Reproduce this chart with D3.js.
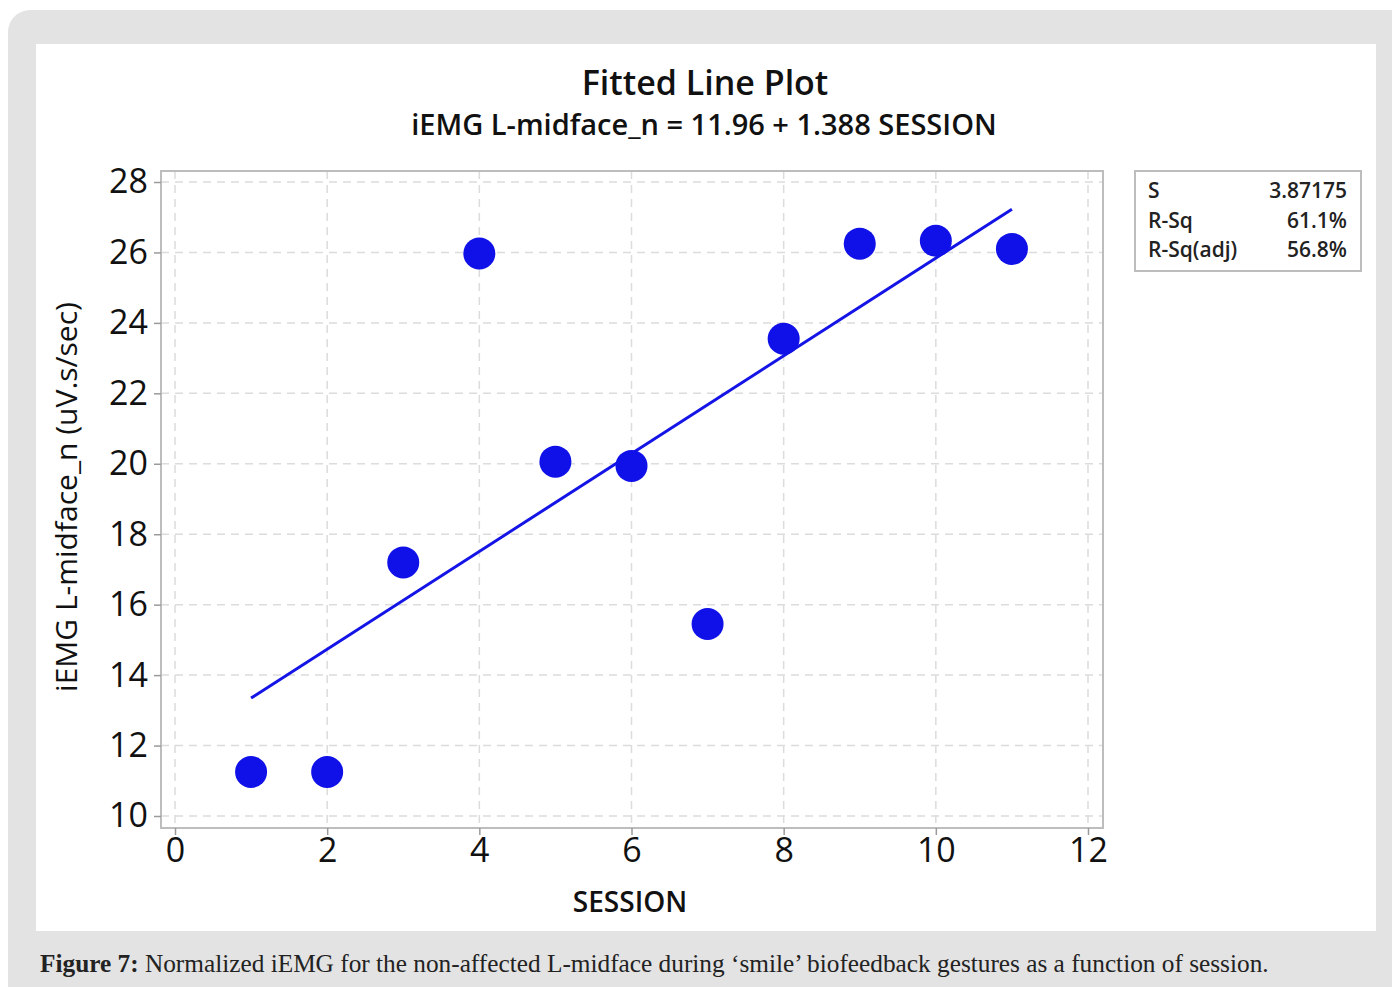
<!DOCTYPE html>
<html>
<head>
<meta charset="utf-8">
<script src="https://cdn.jsdelivr.net/npm/d3@7"></script>
<style>
  body { margin: 0; background: #fff; }
  text { font-family: "Open Sans", "Noto Sans", sans-serif; }
</style>
</head>
<body>
<div id="chart"></div>
<script>
// data
var sessions = [1, 2, 3, 4, 5, 6, 7, 8, 9, 10, 11];
var iemg = [11.25, 11.25, 17.2, 25.97, 20.06, 19.94, 15.45, 23.55, 26.25, 26.33, 26.1];
var fitIntercept = 11.96, fitSlope = 1.388;
var xTicks = [0, 2, 4, 6, 8, 10, 12];
var yTicks = [10, 12, 14, 16, 18, 20, 22, 24, 26, 28];
var statNames = ["S", "R-Sq", "R-Sq(adj)"];
var statValues = ["3.87175", "61.1%", "56.8%"];

var W = 1392, H = 987;
var svg = d3.select("#chart").append("svg")
    .attr("width", W)
    .attr("height", H);

// page background + white panel
svg.append("rect").attr("x", 8).attr("y", 10).attr("width", 1420).attr("height", 977 + 30)
    .attr("rx", 22).attr("fill", "#e3e3e3");
svg.append("rect").attr("x", 36).attr("y", 44).attr("width", 1340).attr("height", 887)
    .attr("fill", "#fff");

// scales
var x = d3.scaleLinear().domain([0, 12]).range([175, 1088]);
var y = d3.scaleLinear().domain([10, 28]).range([816, 182]);

var frame = {left: 161, right: 1103, top: 171, bottom: 828};

// grid
var grid = svg.append("g").attr("stroke", "#dcdcdc").attr("stroke-width", 1.5)
    .attr("stroke-dasharray", "8,6");
grid.selectAll(".gx").data(xTicks).enter().append("line")
    .attr("x1", d => x(d)).attr("x2", d => x(d))
    .attr("y1", frame.top).attr("y2", frame.bottom);
grid.selectAll(".gy").data(yTicks).enter().append("line")
    .attr("y1", d => y(d)).attr("y2", d => y(d))
    .attr("x1", frame.left).attr("x2", frame.right);

// frame
svg.append("rect")
    .attr("x", frame.left).attr("y", frame.top)
    .attr("width", frame.right - frame.left).attr("height", frame.bottom - frame.top)
    .attr("fill", "none").attr("stroke", "#bdbdbd").attr("stroke-width", 2);

// axes
var xAxis = svg.append("g")
    .attr("transform", "translate(0," + frame.bottom + ")")
    .call(d3.axisBottom(x).tickValues(xTicks).tickSize(7).tickPadding(3).tickFormat(d3.format("d")));
var yAxis = svg.append("g")
    .attr("transform", "translate(" + frame.left + ",0)")
    .call(d3.axisLeft(y).tickValues(yTicks).tickSize(7).tickPadding(6).tickFormat(d3.format("d")));
[xAxis, yAxis].forEach(function(a) {
  a.select(".domain").remove();
  a.selectAll(".tick line").attr("stroke", "#9a9a9a").attr("stroke-width", 1.5);
  a.selectAll(".tick text").attr("fill", "#111").style("font-size", "34px")
      .style("font-weight", 500)
      .style("font-family", "'Open Sans', sans-serif");
});

// fitted line
var fitLine = d3.line().x(d => x(d)).y(d => y(fitIntercept + fitSlope * d));
svg.append("path")
    .datum([d3.min(sessions), d3.max(sessions)])
    .attr("d", fitLine)
    .attr("fill", "none").attr("stroke", "#1414e6").attr("stroke-width", 3);

// points
svg.selectAll(".pt").data(sessions).enter().append("circle")
    .attr("cx", d => x(d))
    .attr("cy", (d, i) => y(iemg[i]))
    .attr("r", 16)
    .attr("fill", "#1010e8");

// titles
svg.append("text").attr("x", 705).attr("y", 95).attr("text-anchor", "middle")
    .style("font-size", "34px").style("font-weight", 600).attr("fill", "#111")
    .text("Fitted Line Plot");
svg.append("text").attr("x", 704).attr("y", 135).attr("text-anchor", "middle")
    .style("font-size", "29px").style("font-weight", 600).attr("fill", "#111")
    .text("iEMG L-midface_n = 11.96 + 1.388 SESSION");
svg.append("text").attr("x", 630).attr("y", 912).attr("text-anchor", "middle")
    .style("font-size", "28px").style("font-weight", 600).attr("fill", "#111")
    .text("SESSION");
svg.append("text")
    .attr("transform", "translate(77,497) rotate(-90)")
    .attr("text-anchor", "middle")
    .style("font-size", "30px").style("font-weight", 500).attr("fill", "#111")
    .text("iEMG L-midface_n (uV.s/sec)");

// stats box
svg.append("rect").attr("x", 1135).attr("y", 171).attr("width", 226).attr("height", 100)
    .attr("fill", "#fff").attr("stroke", "#bdbdbd").attr("stroke-width", 2);
var rows = svg.selectAll(".stat").data(statNames).enter().append("g")
    .attr("transform", (d, i) => "translate(0," + (198 + i * 29.5) + ")");
rows.append("text").attr("x", 1148).style("font-size", "21px").style("font-weight", 600)
    .attr("fill", "#222").text(d => d);
rows.append("text").attr("x", 1347).attr("text-anchor", "end")
    .style("font-size", "21px").style("font-weight", 600)
    .attr("fill", "#222").text((d, i) => statValues[i]);

// caption
var cap = svg.append("text").attr("x", 40).attr("y", 972)
    .style("font-family", "'Liberation Serif', serif").style("font-size", "25.3px").attr("fill", "#222");
cap.append("tspan").style("font-weight", "bold").text("Figure 7:");
cap.append("tspan").text(" Normalized iEMG for the non-affected L-midface during \u2018smile\u2019 biofeedback gestures as a function of session.");
</script>
</body>
</html>
